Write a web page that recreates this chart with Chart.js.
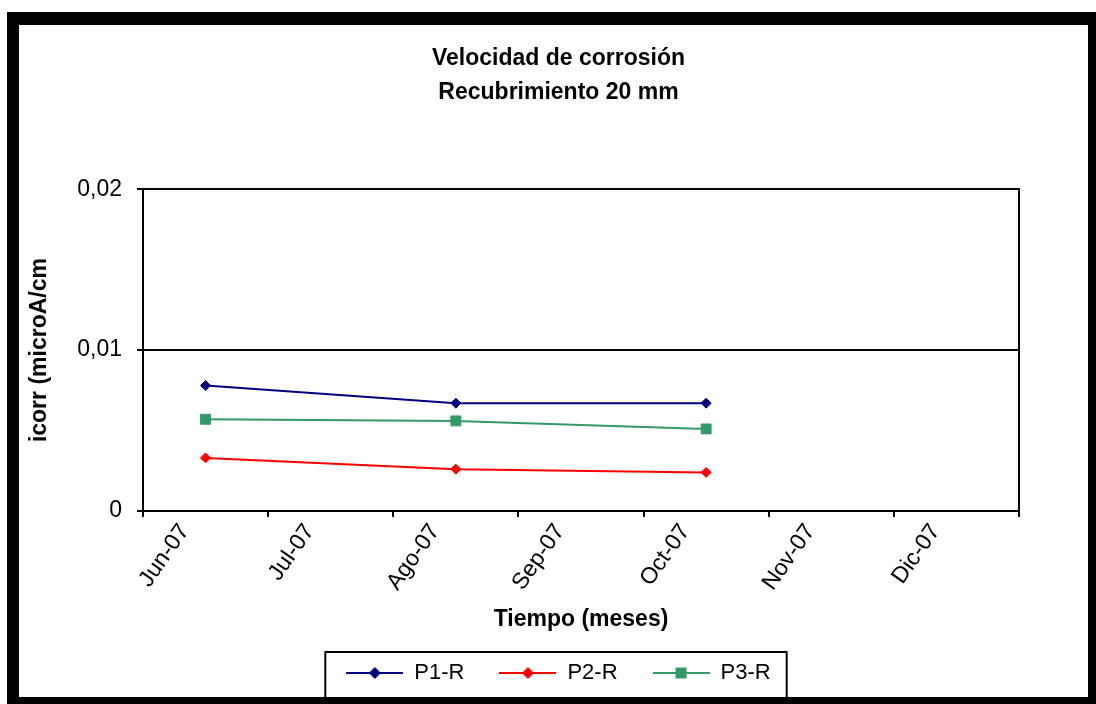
<!DOCTYPE html>
<html>
<head>
<meta charset="utf-8">
<script src="https://cdn.jsdelivr.net/npm/chart.js@4.4.0/dist/chart.umd.min.js"></script>
<style>
  html, body { margin: 0; padding: 0; background: #fff; }
  /* black frame around the exported chart */
  #frame {
    position: absolute; left: 7px; top: 12px;
    width: 1089px; height: 692px; box-sizing: border-box;
    border-style: solid; border-color: #000;
    border-width: 13px 8px 7px 12px;
    background: #fff;
  }
  #myChart { display: block; }
</style>
</head>
<body>
<div id="frame"><canvas id="myChart" width="1069" height="672"></canvas></div>
<script>
// Chart data
const months = ['Jun-07', 'Jul-07', 'Ago-07', 'Sep-07', 'Oct-07', 'Nov-07', 'Dic-07'];
const p1r = [0.0078, null, 0.0067, null, 0.0067, null, null];
const p2r = [0.0033, null, 0.0026, null, 0.0024, null, null];
const p3r = [0.0057, null, 0.0056, null, 0.0051, null, null];
const seriesNames = ['P1-R', 'P2-R', 'P3-R'];
const yTicks = [0, 0.01, 0.02];

const FONT = "'Liberation Sans', Arial, sans-serif";
Chart.defaults.font.family = FONT;
Chart.defaults.color = '#000';

// small line + marker picture used as legend symbol
function legendMark(color, style) {
  const c = document.createElement('canvas');
  c.width = 57; c.height = 18;
  const g = c.getContext('2d');
  g.strokeStyle = color;
  g.fillStyle = color;
  g.lineWidth = 2;
  g.beginPath(); g.moveTo(0, 9); g.lineTo(57, 9); g.stroke();
  g.beginPath();
  if (style === 'rect') {
    g.rect(28.5 - 5.5, 9 - 5.5, 11, 11);
  } else {
    g.moveTo(28.5, 3); g.lineTo(34.5, 9); g.lineTo(28.5, 15); g.lineTo(22.5, 9); g.closePath();
  }
  g.fill();
  return c;
}

// box around the legend (its bottom edge hides under the frame)
const legendFrame = {
  id: 'legendFrame',
  afterDraw(chart) {
    const boxes = chart.legend && chart.legend.legendHitBoxes;
    if (!boxes || !boxes.length) return;
    const first = boxes[0], last = boxes[boxes.length - 1];
    const left = first.left - 21;
    const right = last.left + last.width + 16;
    const top = first.top + first.height / 2 - 21;
    const ctx = chart.ctx;
    ctx.save();
    ctx.strokeStyle = '#000';
    ctx.lineWidth = 2;
    ctx.strokeRect(left, top, right - left, chart.height - top + 6);
    ctx.restore();
  }
};

function makeSet(label, values, color, style, radius) {
  return {
    label: label,
    data: values,
    borderColor: color,
    backgroundColor: color,
    borderWidth: 2,
    pointStyle: style,
    pointRadius: radius,
    pointBorderWidth: 1,
    pointHoverRadius: radius,
    spanGaps: true,
    tension: 0
  };
}

const data = {
  labels: months,
  datasets: [
    makeSet(seriesNames[0], p1r, '#000080', 'rectRot', 5),
    makeSet(seriesNames[1], p2r, '#ff0000', 'rectRot', 5),
    makeSet(seriesNames[2], p3r, '#339966', 'rect', 7)
  ]
};

const marks = data.datasets.map(ds => legendMark(ds.borderColor, ds.pointStyle));

const config = {
  type: 'line',
  data: data,
  options: {
    responsive: false,
    animation: false,
    layout: { padding: { left: 10, right: 0, top: 0, bottom: 3 } },
    plugins: {
      title: {
        display: true,
        text: ['Velocidad de corrosión', 'Recubrimiento 20 mm'],
        color: '#000',
        font: { size: 23, weight: 'bold', lineHeight: 1.46 },
        padding: { top: 17, bottom: 80 }
      },
      legend: {
        position: 'bottom',
        labels: {
          color: '#000',
          font: { size: 22 },
          usePointStyle: true,
          pointStyleWidth: 57,
          padding: 35,
          generateLabels(chart) {
            const items = Chart.defaults.plugins.legend.labels.generateLabels(chart);
            items.forEach((it, i) => { it.pointStyle = marks[i]; });
            return items;
          }
        }
      },
      tooltip: { enabled: false }
    },
    scales: {
      x: {
        type: 'category',
        offset: true,
        grid: {
          offset: true,
          drawOnChartArea: false,
          color: '#000',
          lineWidth: 2,
          tickLength: 6
        },
        border: { display: true, color: '#000', width: 2 },
        ticks: {
          autoSkip: false,
          minRotation: 55,
          maxRotation: 55,
          padding: 2,
          labelOffset: -21,
          font: { size: 23 }
        },
        title: {
          display: true,
          text: 'Tiempo (meses)',
          font: { size: 23, weight: 'bold' },
          padding: { top: 0, bottom: -6 }
        },
        afterFit(scale) { scale.height = 116; }
      },
      y: {
        min: yTicks[0],
        max: yTicks[yTicks.length - 1],
        grid: { color: '#000', lineWidth: 2, tickLength: 6 },
        border: { display: true, color: '#000', width: 2 },
        ticks: {
          stepSize: yTicks[1] - yTicks[0],
          padding: 15,
          font: { size: 23 },
          callback: v => (v === 0 ? '0' : v.toFixed(2).replace('.', ','))
        },
        title: {
          display: true,
          text: 'icorr (microA/cm',
          font: { size: 23, weight: 'bold' },
          padding: { top: -3, bottom: 0 }
        },
        afterFit(scale) { scale.width = 114; }
      },
      // right edge of the plot frame
      yRight: {
        position: 'right',
        min: 0,
        max: 1,
        grid: { display: false },
        ticks: { display: false },
        border: { display: true, color: '#000', width: 2 },
        afterFit(scale) { scale.width = 69; }
      }
    }
  },
  plugins: [legendFrame]
};

const ctx = document.getElementById('myChart');
new Chart(ctx, config);
</script>
</body>
</html>
